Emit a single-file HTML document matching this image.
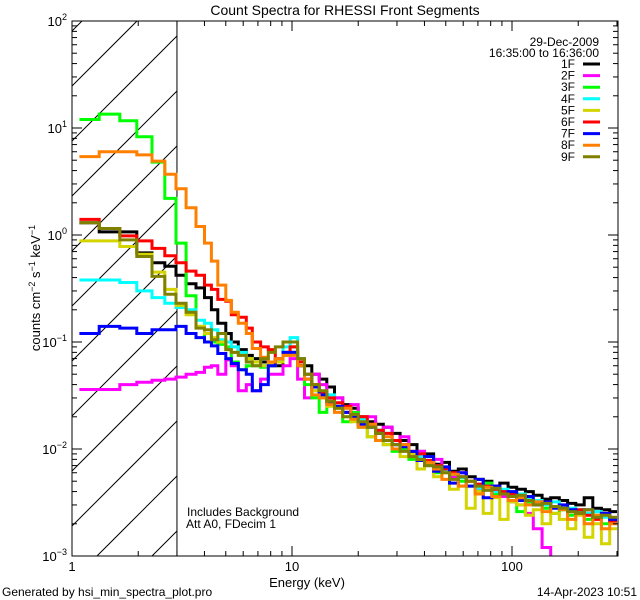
<!DOCTYPE html>
<html><head><meta charset="utf-8"><style>
html,body{margin:0;padding:0;background:#fff;width:640px;height:600px;overflow:hidden;}
svg{display:block;font-family:"Liberation Sans",sans-serif;}
</style></head><body>
<svg id="chart" width="640" height="600" xmlns="http://www.w3.org/2000/svg">
<rect x="0" y="0" width="640" height="600" fill="#fff"/>
<text x="345" y="15" font-size="14" text-anchor="middle">Count Spectra for RHESSI Front Segments</text>
<g id="hatch"></g>
<g id="series"></g>
<g id="axes"></g>
<text x="307" y="587" font-size="13" text-anchor="middle">Energy (keV)</text>
<text transform="translate(40,288) rotate(-90)" font-size="13" text-anchor="middle">counts cm<tspan font-size="9" dy="-5">−2</tspan><tspan dy="5"> s</tspan><tspan font-size="9" dy="-5">−1</tspan><tspan dy="5"> keV</tspan><tspan font-size="9" dy="-5">−1</tspan></text>
<text x="187" y="516" font-size="12">Includes Background</text>
<text x="186" y="528" font-size="12">Att A0, FDecim 1</text>
<text x="2" y="596" font-size="12">Generated by hsi_min_spectra_plot.pro</text>
<text x="637" y="596" font-size="12" text-anchor="end">14-Apr-2023 10:51</text>
<text x="599" y="46" font-size="12" text-anchor="end">29-Dec-2009</text>
<text x="599" y="57" font-size="12" text-anchor="end">16:35:00 to 16:36:00</text>
<g id="legend"></g>
</svg>
<script>
const edges=[1.08,1.33,1.65,1.97,2.31,2.64,2.97,3.3,3.66,4.0,4.3,4.6,5.0,5.3,5.7,6.2,6.6,7.2,7.8,8.4,9.1,9.8,10.6,11.4,12.3,13.3,14.4,15.6,17,18.5,20,22,24,26,28.5,31,34,37,40,44,48,52,57,62,68,74,81,88,96,105,115,125,137,150,164,179,195,213,233,255,278,300];
const seriesNames=["1F","2F","3F","4F","5F","6F","7F","8F","9F"];
const seriesColors=["#000000","#ff00ff","#00ff00","#00ffff","#d4d400","#ff0000","#0000ff","#ff8000","#808000"];
const s1F=[1.3,1.07,1.07,.68,.55,.51,.42,.35,.32,.26,.2,.15,.12,.1,.085,.075,.07,.065,.06,.06,.075,.08,.07,.06,.05,.045,.038,.03,.026,.024,.02,.018,.017,.016,.014,.012,.011,.0095,.009,.0072,.0075,.0062,.0065,.0055,.0052,.005,.0045,.0048,.0044,.0042,.004,.0037,.0034,.0035,.0033,.0031,.003,.0035,.0028,.0027,.0026];
const s2F=[.036,.036,.04,.042,.044,.045,.047,.05,.052,.058,.06,.05,.068,.06,.035,.04,.035,.045,.05,.05,.06,.07,.045,.03,.05,.04,.028,.03,.022,.026,.017,.02,.014,.016,.011,.013,.009,.0095,.007,.008,.0065,.0055,.006,.005,.0042,.0045,.0038,.0036,.0032,.003,.0025,.0018,.0012,.0008,.0007,.0009,.0007,.0008,.0006,.0009,.0008];
const s3F=[12,13.5,11.7,8.3,4.8,2.2,.84,.27,.14,.1,.1,.095,.09,.065,.055,.06,.06,.058,.06,.065,.08,.09,.06,.04,.03,.022,.03,.025,.018,.022,.016,.013,.014,.011,.0095,.01,.008,.0085,.007,.006,.0065,.0058,.005,.0045,.004,.0048,.0038,.004,.0036,.0026,.0032,.003,.0028,.0025,.0027,.0024,.0026,.0022,.0024,.002,.0021];
const s4F=[.38,.38,.36,.3,.26,.23,.21,.2,.16,.15,.13,.105,.1,.09,.08,.07,.065,.06,.065,.07,.09,.11,.07,.05,.035,.03,.032,.025,.024,.02,.019,.016,.015,.014,.011,.011,.009,.0085,.0078,.007,.0062,.0058,.0054,.005,.0043,.0045,.004,.0042,.0037,.0038,.0035,.0033,.003,.0032,.0029,.0028,.0027,.0025,.0026,.0023,.0022];
const s5F=[.88,.88,.78,.66,.45,.31,.22,.18,.14,.12,.11,.1,.085,.08,.075,.07,.065,.06,.062,.065,.075,.08,.06,.045,.035,.03,.025,.024,.02,.018,.017,.013,.012,.011,.01,.0085,.009,.0065,.0075,.0055,.006,.0042,.0045,.0028,.004,.0025,.0035,.0022,.0032,.003,.0024,.0027,.002,.0025,.0022,.0018,.0024,.0015,.002,.0013,.0018];
const s6F=[1.4,1.15,.98,.88,.75,.64,.55,.46,.42,.34,.31,.25,.24,.18,.17,.135,.1,.09,.085,.07,.08,.09,.065,.05,.04,.034,.03,.027,.025,.02,.02,.017,.015,.014,.012,.011,.0095,.009,.0078,.007,.0065,.006,.0055,.005,.0047,.0045,.0042,.004,.0038,.0035,.0033,.003,.0032,.0029,.0028,.0026,.0027,.0024,.0022,.0025,.0021];
const s7F=[.12,.14,.135,.12,.13,.13,.14,.12,.11,.1,.092,.078,.07,.063,.055,.05,.035,.04,.06,.07,.08,.08,.06,.045,.038,.032,.027,.025,.022,.02,.017,.016,.014,.012,.011,.0105,.0095,.0078,.0085,.0062,.0068,.0048,.006,.0045,.0052,.0035,.0045,.0038,.004,.0033,.0036,.003,.0032,.0028,.003,.0027,.0025,.0027,.0023,.0025,.0022];
const s8F=[5.4,6.0,6.0,5.6,4.9,3.7,2.7,1.8,1.2,.84,.57,.34,.245,.19,.15,.12,.087,.072,.065,.07,.075,.075,.06,.045,.032,.03,.026,.022,.024,.019,.016,.017,.012,.013,.01,.011,.0085,.008,.0075,.0065,.0052,.0058,.0045,.005,.0038,.0044,.0036,.0038,.0033,.0035,.003,.0032,.0026,.0029,.0027,.0022,.0025,.002,.0024,.0018,.002];
const s9F=[1.3,1.15,.9,.63,.41,.28,.23,.19,.135,.13,.105,.12,.085,.08,.075,.065,.06,.07,.08,.09,.1,.1,.07,.05,.04,.035,.028,.024,.02,.021,.018,.016,.014,.012,.011,.0095,.0085,.008,.007,.0068,.006,.0052,.0055,.005,.0045,.0041,.0043,.0038,.0036,.0037,.0033,.003,.0031,.0029,.0028,.0026,.0025,.0027,.0023,.0024,.0023];
const seriesData=[s1F,s2F,s3F,s4F,s5F,s6F,s7F,s8F,s9F];
const yTickExps=[-3,-2,-1,0,1,2];
const xTickLabels=["1","10","100"];
const xTickValues=[1,10,100];

const NS="http://www.w3.org/2000/svg";
const L=72,R=618,T=21,B=556;
const xMinLog=0,xMaxLog=(R-L)/220,yMinLog=-3,yMaxLog=2;
function xs(v){return L+(Math.log10(v)-xMinLog)/(xMaxLog-xMinLog)*(R-L);}
function ys(v){return B-(Math.log10(v)-yMinLog)/(yMaxLog-yMinLog)*(B-T);}
function mk(tag,attrs,parent){const e=document.createElementNS(NS,tag);for(const k in attrs)e.setAttribute(k,attrs[k]);parent.appendChild(e);return e;}

const hatch=document.getElementById('hatch');
const hx=xs(3);
const defs=mk('defs',{},document.getElementById('chart'));
for(let c=L+T+10;c<hx+B;c+=55){
  let xa=Math.max(L,c-B), xb=Math.min(hx,c-T);
  if(xb<=xa)continue;
  const ln=mk('line',{x1:xa,y1:c-xa,x2:xb,y2:c-xb,stroke:'#000','stroke-width':1},hatch);
  
  
}
const hb=mk('line',{x1:hx,y1:T,x2:hx,y2:B,stroke:'#000','stroke-width':1},hatch);



const sg=document.getElementById('series');
const scp=mk('clipPath',{id:'pclip'},defs);
mk('rect',{x:L,y:T,width:R-L,height:B-T},scp);
sg.setAttribute('clip-path','url(#pclip)');
seriesData.forEach((vals,si)=>{
  let d='';
  for(let i=0;i<vals.length;i++){
    const x0=xs(edges[i]),x1=Math.min(R,xs(edges[i+1])),y=Math.min(B+4,Math.max(T,ys(vals[i])));
    d+=(i===0?'M':'L')+x0.toFixed(1)+' '+y.toFixed(1)+' L'+x1.toFixed(1)+' '+y.toFixed(1)+' ';
  }
  const p=mk('path',{d:d,fill:'none',stroke:seriesColors[si],'stroke-width':3,'stroke-linejoin':'miter'},sg);
  
  
});

const ax=document.getElementById('axes');
const frame=mk('rect',{x:L,y:T,width:R-L,height:B-T,fill:'none',stroke:'#000','stroke-width':1},ax);


for(let e=0;e<3;e++){
  for(let m=1;m<10;m++){
    const v=m*Math.pow(10,e);const x=xs(v);if(x>R+0.5)continue;
    const len=m===1?10:5;
    mk('line',{x1:x,y1:B,x2:x,y2:B-len,stroke:'#000'},ax);
    mk('line',{x1:x,y1:T,x2:x,y2:T+len,stroke:'#000'},ax);
  }
}
xTickValues.forEach((v,i)=>{
  const t=mk('text',{x:xs(v),y:571,'font-size':13,'text-anchor':'middle'},ax);
  t.textContent=xTickLabels[i];
  
  
});
for(let e=-3;e<2;e++){
  for(let m=1;m<10;m++){
    const y=ys(m*Math.pow(10,e));const len=m===1?10:5;
    mk('line',{x1:L,y1:y,x2:L+len,y2:y,stroke:'#000'},ax);
    mk('line',{x1:R,y1:y,x2:R-len,y2:y,stroke:'#000'},ax);
  }
}
mk('line',{x1:L,y1:T,x2:L+10,y2:T,stroke:'#000'},ax);
yTickExps.forEach(e=>{
  const t=mk('text',{x:L-5,y:ys(Math.pow(10,e))+5,'font-size':13,'text-anchor':'end'},ax);
  
  
  const b=mk('tspan',{},t);b.textContent='10';
  const s=mk('tspan',{'font-size':9,dy:-6},t);s.textContent=(e<0?'−':'')+Math.abs(e);
});

const lg=document.getElementById('legend');
seriesNames.forEach((n,i)=>{
  const y=64+i*11.6;
  const t=mk('text',{x:575,y:y+4,'font-size':12,'text-anchor':'end'},lg);
  t.textContent=n;
  
  
  const l=mk('line',{x1:583,y1:y,x2:600,y2:y,stroke:seriesColors[i],'stroke-width':3},lg);
  
  
});
</script>
</body></html>
